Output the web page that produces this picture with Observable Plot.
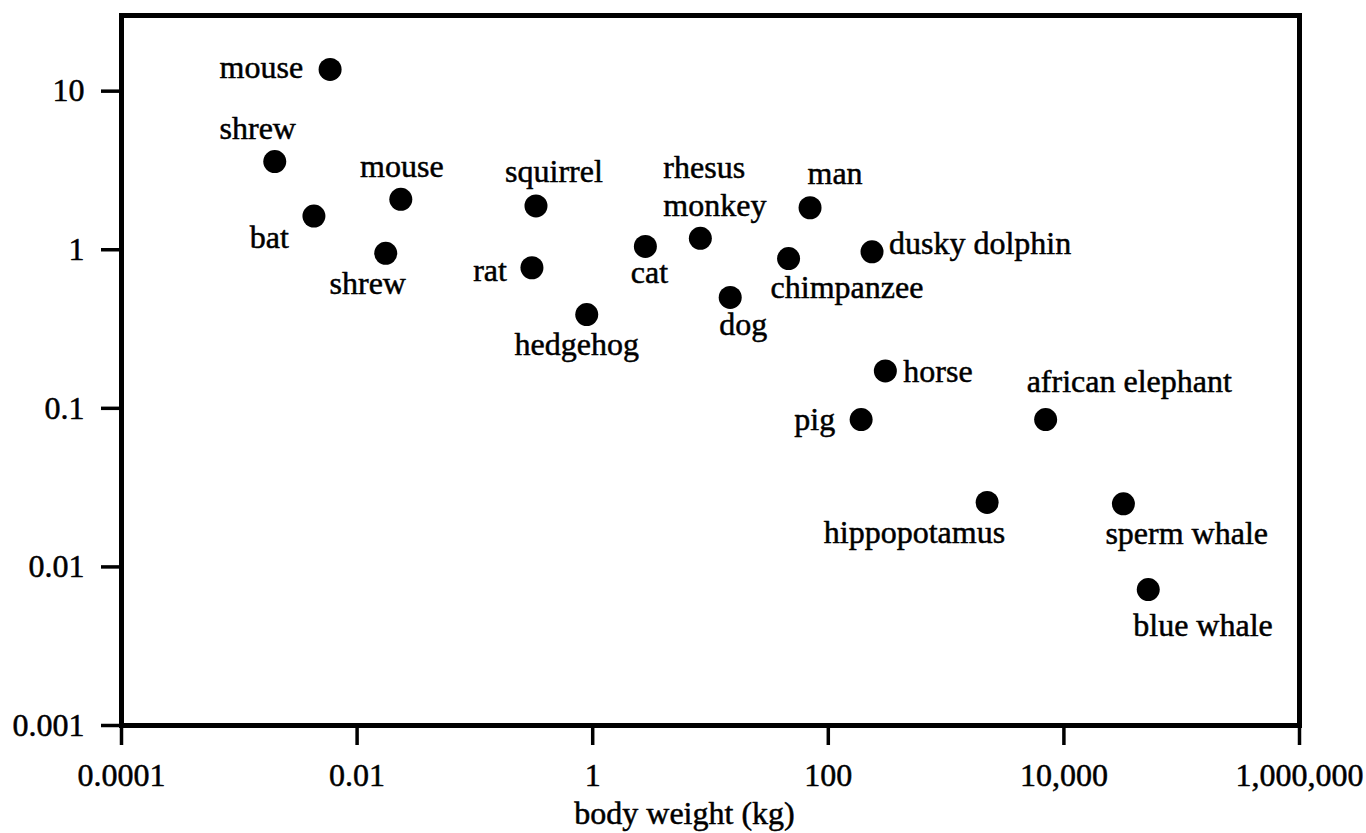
<!DOCTYPE html>
<html>
<head>
<meta charset="utf-8">
<script src="https://cdn.jsdelivr.net/npm/d3@7"></script>
<script src="https://cdn.jsdelivr.net/npm/@observablehq/plot@0.6"></script>
<style>
  body { margin: 0; background: #fff; }
</style>
</head>
<body>
<div id="chart"></div>
<script>
// Animals, their body weight (kg) and the per-kilogram rate plotted on the y axis
const animals = [
  "mouse", "shrew", "bat", "mouse", "shrew", "squirrel", "rat", "hedgehog",
  "cat", "rhesus monkey", "dog", "chimpanzee", "man", "dusky dolphin",
  "horse", "pig", "african elephant", "hippopotamus", "sperm whale", "blue whale"
];
const bodyWeightKg = [
  0.0059, 0.002, 0.0043, 0.0235, 0.0175, 0.33, 0.305, 0.89,
  2.8, 8.2, 14.7, 46, 70, 235,
  305, 190, 7000, 2230, 32000, 52000
];
const ratePerKg = [
  13.7, 3.6, 1.63, 2.08, 0.95, 1.89, 0.77, 0.39,
  1.05, 1.18, 0.5, 0.88, 1.84, 0.97,
  0.172, 0.085, 0.085, 0.0255, 0.025, 0.0072
];

const xTicks = [1e-4, 1e-2, 1, 1e2, 1e4, 1e6];
const xTickLabels = ["0.0001", "0.01", "1", "100", "10,000", "1,000,000"];
const yTicks = [1e-3, 1e-2, 1e-1, 1, 10];
const yTickLabels = ["0.001", "0.01", "0.1", "1", "10"];
const xTitle = "body weight (kg)";

const rows = animals.map((name, i) => ({name, weight: bodyWeightKg[i], value: ratePerKg[i]}));

// Where each name sits relative to its dot: [textAnchor, dx, dy to baseline, wrap width]
const placement = [
  ["end", -27, 9],      // mouse
  ["middle", -17, -23], // shrew
  ["end", -25, 32],     // bat
  ["middle", 1, -22],   // mouse
  ["middle", -18, 41],  // shrew
  ["middle", 18, -24],  // squirrel
  ["end", -25, 13],     // rat
  ["middle", -10, 40],  // hedgehog
  ["middle", 4, 37],    // cat
  ["start", -37, -22, 5], // rhesus monkey (two lines)
  ["middle", 13, 38],   // dog
  ["start", -18, 39],   // chimpanzee
  ["middle", 25, -24],  // man
  ["start", 17, 2],     // dusky dolphin
  ["start", 18, 11],    // horse
  ["end", -26, 10],     // pig
  ["start", -19, -28],  // african elephant
  ["end", 18, 41],      // hippopotamus
  ["start", -18, 40],   // sperm whale
  ["start", -15, 46]    // blue whale
];

const serif = "'Liberation Serif', 'Times New Roman', Times, serif";
// a hairline outline gives the type the weight of the printed figure
const ink = {fill: "black", stroke: "black", strokeWidth: 0.5, fontSize: 32, fontFamily: serif};

const nameLabels = rows.map((d, i) => {
  const [anchor, dx, dy, wrap] = placement[i];
  return Plot.text([d], {
    x: "weight",
    y: "value",
    text: "name",
    textAnchor: anchor,
    lineAnchor: "bottom",
    lineHeight: 1.2,
    lineWidth: wrap ?? Infinity,
    dx,
    dy,
    ...ink
  });
});

const chart = Plot.plot({
  width: 1366,
  height: 833,
  marginLeft: 121,
  marginRight: 67,
  marginTop: 15,
  marginBottom: 108,
  x: {type: "log", domain: [1e-4, 1e6]},
  y: {type: "log", domain: [1e-3, 30]},
  style: {fontFamily: serif, fontSize: "32px", background: "#fff", color: "#000"},
  marks: [
    Plot.axisX({
      ticks: xTicks,
      tickFormat: (d) => xTickLabels[xTicks.indexOf(d)],
      tickSize: 20,
      tickPadding: 18,
      strokeWidth: 3.5,
      fontSize: 32,
      fontFamily: serif,
      textStroke: "black",
      textStrokeWidth: 0.5,
      label: null
    }),
    Plot.axisY({
      ticks: yTicks,
      tickFormat: (d) => yTickLabels[yTicks.indexOf(d)],
      tickSize: 20,
      tickPadding: 17,
      strokeWidth: 3.5,
      fontSize: 32,
      fontFamily: serif,
      textStroke: "black",
      textStrokeWidth: 0.5,
      label: null
    }),
    Plot.frame({stroke: "black", strokeWidth: 5}),
    Plot.dot(rows, {x: "weight", y: "value", r: 11.5, fill: "black", stroke: "none"}),
    ...nameLabels,
    Plot.text([xTitle], {
      text: (d) => d,
      frameAnchor: "bottom",
      dx: -26,
      dy: 98,
      lineAnchor: "bottom",
      ...ink
    })
  ]
});

document.getElementById("chart").appendChild(chart);
</script>
</body>
</html>
